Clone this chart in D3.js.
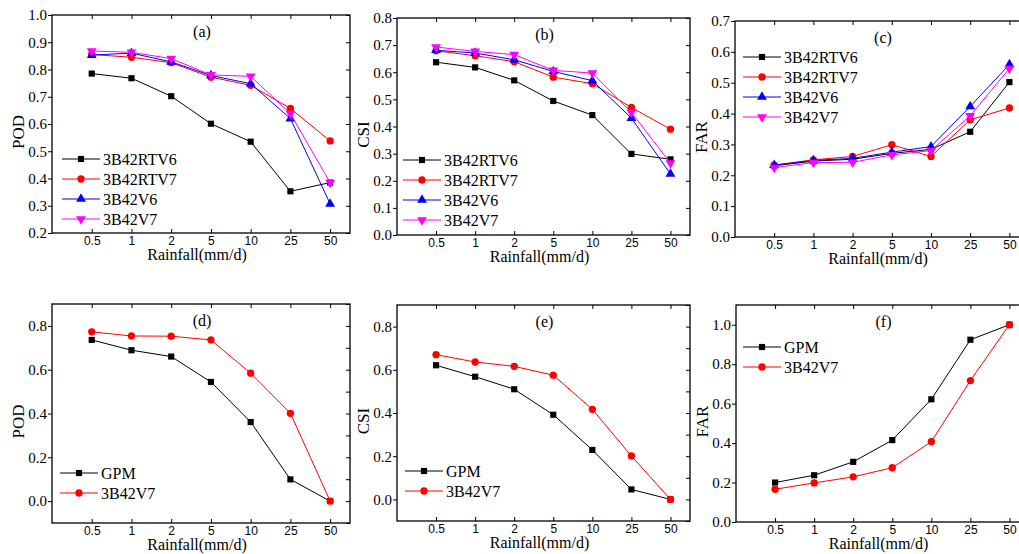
<!DOCTYPE html>
<html><head><meta charset="utf-8">
<script src="https://cdn.jsdelivr.net/npm/d3@7"></script>
<style>body{margin:0;background:#fff} svg{display:block}</style>
</head><body>
<svg id="c" width="1019" height="554"></svg>
<script>
// ---------- data ----------
const categories = ["0.5", "1", "2", "5", "10", "25", "50"];
const xTitle = "Rainfall(mm/d)";

// (a) POD
const podRTV6 = [0.785, 0.768, 0.702, 0.601, 0.535, 0.353, 0.385];
const podRTV7 = [0.855, 0.845, 0.825, 0.772, 0.742, 0.657, 0.538];
const podV6   = [0.853, 0.860, 0.828, 0.778, 0.748, 0.620, 0.307];
const podV7   = [0.868, 0.863, 0.840, 0.780, 0.775, 0.638, 0.385];
// (b) CSI
const csiRTV6 = [0.637, 0.618, 0.570, 0.494, 0.442, 0.299, 0.279];
const csiRTV7 = [0.679, 0.661, 0.639, 0.582, 0.558, 0.470, 0.390];
const csiV6   = [0.681, 0.671, 0.646, 0.603, 0.569, 0.431, 0.225];
const csiV7   = [0.693, 0.677, 0.665, 0.607, 0.597, 0.452, 0.265];
// (c) FAR
const farRTV6 = [0.231, 0.246, 0.252, 0.271, 0.284, 0.341, 0.502];
const farRTV7 = [0.233, 0.250, 0.261, 0.299, 0.261, 0.380, 0.418];
const farV6   = [0.233, 0.248, 0.255, 0.275, 0.293, 0.423, 0.559];
const farV7   = [0.225, 0.241, 0.242, 0.266, 0.280, 0.393, 0.546];
// (d) POD  GPM vs 3B42V7
const podGPM  = [0.736, 0.689, 0.660, 0.544, 0.361, 0.099, 0.0];
const podGV7  = [0.773, 0.754, 0.753, 0.736, 0.584, 0.401, 0.0];
// (e) CSI
const csiGPM  = [0.621, 0.568, 0.510, 0.392, 0.229, 0.046, 0.0];
const csiGV7  = [0.670, 0.636, 0.616, 0.575, 0.417, 0.201, 0.0];
// (f) FAR
const farGPM  = [0.200, 0.237, 0.305, 0.415, 0.622, 0.924, 1.0];
const farGV7  = [0.166, 0.198, 0.229, 0.275, 0.407, 0.717, 1.0];

const seriesNames4 = ["3B42RTV6", "3B42RTV7", "3B42V6", "3B42V7"];
const seriesNames2 = ["GPM", "3B42V7"];

// ---------- styles ----------
const SERIF = "'Liberation Serif','Times New Roman',serif";
const SANS = "'Liberation Sans',Arial,sans-serif";
const style4 = [
  {color: "#000000", sym: d3.symbolSquare, size: 38, rot: 0},
  {color: "#ff0000", sym: d3.symbolCircle, size: 42, rot: 0},
  {color: "#0000ff", sym: d3.symbolTriangle, size: 42, rot: 0},
  {color: "#ff00ff", sym: d3.symbolTriangle, size: 42, rot: 180}
];
const style2 = [style4[0], style4[1]];

const panels = [
  {label: "(a)", yTitle: "POD", left: 52, right: 350, top: 15, bottom: 233, yDomain: [0.2, 1.0],
   yTicks: d3.range(2, 11).map(v => v / 10), yMinor: d3.range(2, 11).map(v => v / 10),
   series: [podRTV6, podRTV7, podV6, podV7], names: seriesNames4, styles: style4, legX: 62, legY: 159},
  {label: "(b)", yTitle: "CSI", left: 397, right: 690, top: 18, bottom: 235, yDomain: [0, 0.8],
   yTicks: d3.range(0, 9).map(v => v / 10), yMinor: d3.range(0, 9).map(v => v / 10),
   series: [csiRTV6, csiRTV7, csiV6, csiV7], names: seriesNames4, styles: style4, legX: 403, legY: 160},
  {label: "(c)", yTitle: "FAR", left: 735, right: 1029, top: 21, bottom: 237, yDomain: [0, 0.7],
   yTicks: d3.range(0, 8).map(v => v / 10), yMinor: d3.range(0, 8).map(v => v / 10),
   series: [farRTV6, farRTV7, farV6, farV7], names: seriesNames4, styles: style4, legX: 743, legY: 57},
  {label: "(d)", yTitle: "POD", left: 52, right: 350, top: 304, bottom: 523, yDomain: [-0.1, 0.9],
   yTicks: [0, 0.2, 0.4, 0.6, 0.8], yMinor: d3.range(-1, 10).map(v => v / 10),
   series: [podGPM, podGV7], names: seriesNames2, styles: style2, legX: 60, legY: 473},
  {label: "(e)", yTitle: "CSI", left: 397, right: 690, top: 305, bottom: 521, yDomain: [-0.1, 0.9],
   yTicks: [0, 0.2, 0.4, 0.6, 0.8], yMinor: d3.range(-1, 10).map(v => v / 10),
   series: [csiGPM, csiGV7], names: seriesNames2, styles: style2, legX: 405, legY: 471},
  {label: "(f)", yTitle: "FAR", left: 736, right: 1029, top: 305, bottom: 522, yDomain: [0, 1.1],
   yTicks: [0, 0.2, 0.4, 0.6, 0.8, 1.0], yMinor: d3.range(0, 12).map(v => v / 10),
   series: [farGPM, farGV7], names: seriesNames2, styles: style2, legX: 743, legY: 347}
];

const svg = d3.select("#c");

function marker(sel, st, cx, cy) {
  sel.append("path")
    .attr("d", d3.symbol().type(st.sym).size(st.size)())
    .attr("transform", `translate(${cx},${cy}) rotate(${st.rot})`)
    .attr("fill", st.color);
}

function drawPanel(p) {
  const g = svg.append("g");
  const x = d3.scaleLinear().domain([0, 7.5]).range([p.left, p.right]);
  const y = d3.scaleLinear().domain(p.yDomain).range([p.bottom, p.top]);
  const idx = d3.range(1, categories.length + 1);

  // bottom axis (ticks inward)
  const bx = g.append("g").attr("transform", `translate(0,${p.bottom})`)
    .call(d3.axisBottom(x).tickValues(idx).tickFormat(i => categories[i - 1])
      .tickSizeInner(-4).tickSizeOuter(0).tickPadding(3));
  bx.selectAll("text").attr("font-family", SANS).attr("font-size", 12).attr("fill", "#000");
  // top axis (ticks inward, no labels)
  g.append("g").attr("transform", `translate(0,${p.top})`)
    .call(d3.axisTop(x).tickValues(idx).tickFormat("").tickSizeInner(-4).tickSizeOuter(0));
  // left axis (ticks outward)
  const ly = g.append("g").attr("transform", `translate(${p.left},0)`)
    .call(d3.axisLeft(y).tickValues(p.yTicks).tickFormat(d3.format(".1f"))
      .tickSizeInner(4).tickSizeOuter(0).tickPadding(1));
  ly.selectAll("text").attr("font-family", SERIF).attr("font-size", 15).attr("fill", "#000");
  // right axis (ticks inward)
  g.append("g").attr("transform", `translate(${p.right},0)`)
    .call(d3.axisRight(y).tickValues(p.yMinor).tickFormat("").tickSizeInner(-4).tickSizeOuter(0));

  g.selectAll(".domain").remove();
  g.selectAll(".tick line").attr("stroke", "#000").attr("stroke-width", 1);

  // frame
  g.append("rect").attr("x", p.left).attr("y", p.top)
    .attr("width", p.right - p.left).attr("height", p.bottom - p.top)
    .attr("fill", "none").attr("stroke", "#000").attr("stroke-width", 1.3);

  // series
  const line = d3.line().x((d, i) => x(i + 1)).y(d => y(d));
  p.series.forEach((s, k) => {
    const st = p.styles[k];
    g.append("path").datum(s).attr("d", line)
      .attr("fill", "none").attr("stroke", st.color).attr("stroke-width", 1);
    s.forEach((v, i) => marker(g, st, x(i + 1), y(v)));
  });

  // legend
  p.names.forEach((n, k) => {
    const st = p.styles[k];
    const yy = p.legY + k * 20;
    g.append("line").attr("x1", p.legX).attr("x2", p.legX + 38)
      .attr("y1", yy).attr("y2", yy).attr("stroke", st.color).attr("stroke-width", 1);
    marker(g, st, p.legX + 19, yy);
    g.append("text").attr("x", p.legX + 41).attr("y", yy + 5.5)
      .attr("font-family", SERIF).attr("font-size", 16).text(n);
  });

  // panel label
  g.append("text").attr("x", (p.left + p.right) / 2 + 1).attr("y", p.top + 22)
    .attr("text-anchor", "middle").attr("font-family", SERIF).attr("font-size", 16).text(p.label);

  // axis titles
  const xc = (p.left + p.right) / 2 - 4;
  g.append("text").attr("x", xc).attr("y", p.bottom + 27)
    .attr("text-anchor", "middle").attr("font-family", SERIF).attr("font-size", 16).text(xTitle);
  const yc = (p.top + p.bottom) / 2 + 8;
  g.append("text").attr("transform", `translate(${p.left - 28},${yc}) rotate(-90)`)
    .attr("text-anchor", "middle").attr("font-family", SERIF).attr("font-size", 17).text(p.yTitle);
}

panels.forEach(drawPanel);
</script>
</body></html>
